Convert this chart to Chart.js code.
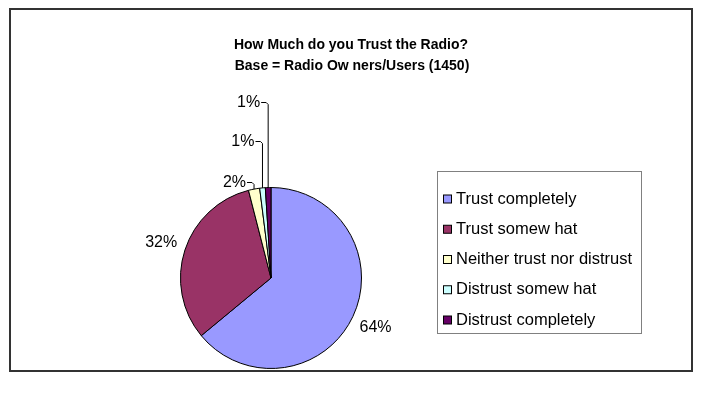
<!DOCTYPE html>
<html>
<head>
<meta charset="utf-8">
<script src="https://cdn.jsdelivr.net/npm/chart.js@4/dist/chart.umd.min.js"></script>
<style>
  body { margin: 0; background: #fff; }
  canvas { display: block; }
</style>
</head>
<body>
<canvas id="trustPie" width="723" height="412"></canvas>
<script>
// survey answers, percent of radio owners/users
const categories = ['Trust completely', 'Trust somew hat', 'Neither trust nor distrust', 'Distrust somew hat', 'Distrust completely'];
const shares = [64, 32, 2, 1, 1];
const sliceColours = ['#9999FF', '#993366', '#FFFFCC', '#CCFFFF', '#660066'];
const titleLines = ['How Much do you Trust the Radio?', 'Base = Radio Ow ners/Users (1450)'];

const FONT = 'Arial, "Liberation Sans", sans-serif';

// frame round the whole chart + the two title lines
const framePlugin = {
    id: 'frame',
    beforeDraw(chart) {
        const c = chart.ctx;
        c.save();
        c.fillStyle = '#fff';
        c.fillRect(0, 0, chart.width, chart.height);
        c.strokeStyle = '#333';
        c.lineWidth = 2;
        c.strokeRect(10, 9, 682, 362);
        c.fillStyle = '#000';
        c.font = 'bold 14px ' + FONT;
        c.textAlign = 'center';
        c.textBaseline = 'middle';
        c.fillText(titleLines[0], 351, 45);
        c.fillText(titleLines[1], 352, 66);
        c.restore();
    }
};

// percent labels; the thin slices get stacked labels with leader lines
const labelLift = [null, null, 5, 46, 85];
const sliceLabels = {
    id: 'sliceLabels',
    afterDatasetsDraw(chart) {
        const c = chart.ctx;
        const arcs = chart.getDatasetMeta(0).data;
        c.save();
        c.font = '16px ' + FONT;
        c.fillStyle = '#000';
        c.strokeStyle = '#000';
        c.lineWidth = 1;
        c.textBaseline = 'middle';
        arcs.forEach((arc, i) => {
            const p = arc.getProps(['x', 'y', 'startAngle', 'endAngle', 'outerRadius'], true);
            const mid = (p.startAngle + p.endAngle) / 2;
            const txt = shares[i] + '%';
            if (labelLift[i] === null) {
                const d = p.outerRadius + 25;
                c.textAlign = 'center';
                c.fillText(txt, p.x + Math.cos(mid) * d, p.y + Math.sin(mid) * d);
                return;
            }
            const ax = p.x + Math.cos(mid) * p.outerRadius;
            const ay = p.y + Math.sin(mid) * p.outerRadius;
            const ly = p.y - p.outerRadius - labelLift[i];
            c.beginPath();
            c.moveTo(ax - 7, ly);
            c.lineTo(ax - 2, ly);
            c.lineTo(ax, ly + 2);
            c.lineTo(ax, ay);
            c.stroke();
            c.textAlign = 'right';
            c.fillText(txt, ax - 8, ly);
        });
        c.restore();
    }
};

// boxed legend on the right
const boxLegend = {
    id: 'boxLegend',
    afterDraw(chart) {
        const c = chart.ctx;
        const box = { x: 437, y: 171, w: 204, h: 162 };
        c.save();
        c.strokeStyle = '#808080';
        c.lineWidth = 1;
        c.strokeRect(box.x + 0.5, box.y + 0.5, box.w, box.h);
        c.font = '16.5px ' + FONT;
        c.textAlign = 'left';
        c.textBaseline = 'middle';
        categories.forEach((name, i) => {
            const cy = box.y + 28 + i * 30.25;
            c.fillStyle = sliceColours[i];
            c.fillRect(443.5, cy - 4, 8, 8);
            c.strokeStyle = '#000';
            c.strokeRect(443.5, cy - 4, 8, 8);
            c.fillStyle = '#000';
            c.fillText(name, 456, cy);
        });
        c.restore();
    }
};

new Chart(document.getElementById('trustPie'), {
    type: 'pie',
    data: {
        labels: categories,
        datasets: [{
            data: shares,
            backgroundColor: sliceColours,
            borderColor: '#000',
            borderWidth: 1
        }]
    },
    options: {
        responsive: false,
        animation: false,
        layout: { padding: { left: 180, top: 187, right: 361, bottom: 43 } },
        plugins: {
            legend: { display: false },
            tooltip: { enabled: false }
        }
    },
    plugins: [framePlugin, sliceLabels, boxLegend]
});
</script>
</body>
</html>
